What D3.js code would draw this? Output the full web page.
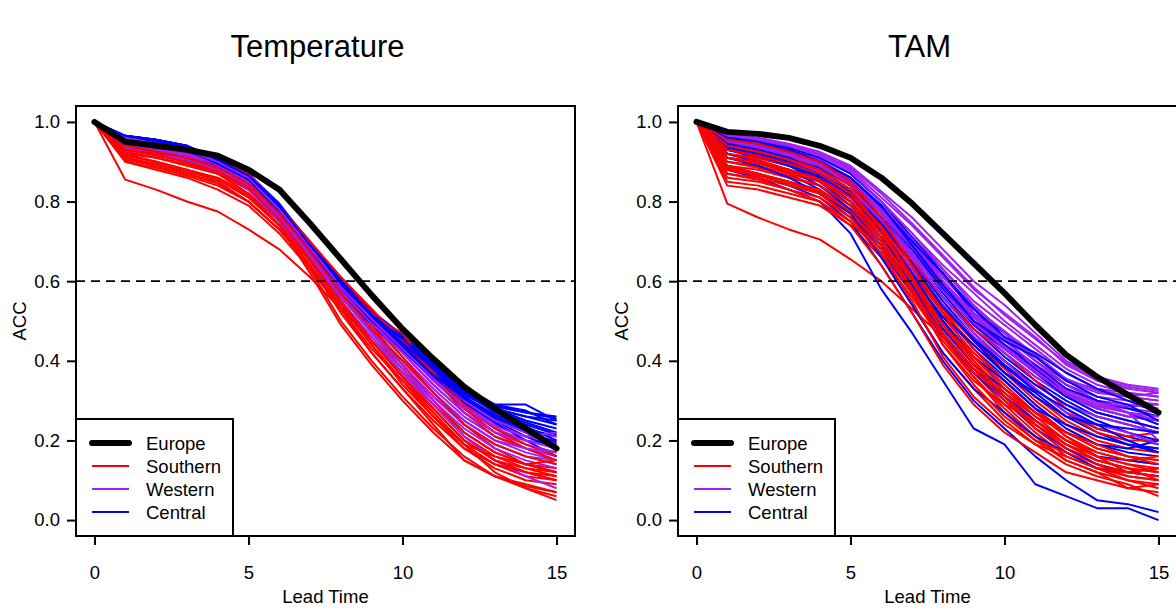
<!DOCTYPE html>
<meta charset="utf-8">
<style>

body {
  margin: 0;
  background: #fff;
}

text {
  font-family: "Liberation Sans", Arial, sans-serif;
  fill: #000;
}

</style>
<svg></svg>
<script src="https://d3js.org/d3.v7.min.js"></script>
<script>

var leadTime = [0, 1, 2, 3, 4, 5, 6, 7, 8, 9, 10, 11, 12, 13, 14, 15];

var xTicks = [0, 5, 10, 15],
    yTicks = [0, 0.2, 0.4, 0.6, 0.8, 1.0];

var legendLabels = ["Europe", "Southern", "Western", "Central"];

// ---- Temperature ----
var tempEurope = [1, .95, .94, .93, .915, .88, .83, .745, .655, .565, .48, .405, .335, .28, .23, .18];

var tempSouthern = [
  [1, .855, .83, .80, .775, .73, .68, .61, .53, .45, .37, .29, .22, .17, .14, .13],
  [1, .90, .88, .86, .83, .79, .72, .63, .53, .43, .35, .26, .18, .13, .10, .09],
  [1, .91, .89, .87, .85, .80, .73, .64, .53, .42, .33, .24, .15, .11, .085, .07],
  [1, .92, .90, .88, .86, .82, .75, .66, .55, .45, .36, .27, .19, .14, .11, .10],
  [1, .93, .92, .90, .88, .84, .76, .67, .57, .47, .38, .29, .21, .16, .13, .11],
  [1, .94, .93, .91, .89, .85, .77, .68, .59, .50, .41, .32, .24, .18, .14, .12],
  [1, .935, .92, .91, .88, .83, .75, .63, .50, .40, .31, .23, .16, .11, .08, .06],
  [1, .95, .94, .92, .90, .86, .78, .69, .60, .52, .44, .36, .28, .22, .18, .15],
  [1, .92, .91, .89, .87, .83, .76, .66, .57, .51, .47, .36, .27, .21, .18, .15],
  [1, .925, .91, .895, .87, .82, .74, .62, .49, .39, .30, .22, .15, .11, .09, .07],
  [1, .945, .93, .915, .895, .855, .78, .69, .59, .49, .39, .30, .22, .17, .14, .12],
  [1, .91, .895, .875, .855, .81, .74, .65, .55, .45, .36, .28, .20, .15, .12, .11],
  [1, .95, .94, .93, .91, .87, .79, .70, .61, .53, .45, .37, .29, .23, .19, .16],
  [1, .90, .885, .865, .84, .80, .73, .64, .54, .44, .35, .27, .19, .12, .08, .05],
  [1, .915, .90, .88, .855, .815, .74, .64, .52, .42, .33, .25, .18, .14, .12, .10],
  [1, .93, .915, .90, .875, .835, .755, .655, .55, .45, .36, .28, .20, .15, .13, .12],
  [1, .905, .89, .87, .845, .80, .73, .635, .54, .44, .34, .26, .19, .16, .14, .15],
  [1, .94, .925, .91, .885, .845, .77, .675, .57, .48, .40, .32, .24, .19, .16, .14]
];

var tempWestern = [
  [1, .96, .95, .93, .90, .86, .78, .69, .58, .50, .43, .35, .28, .23, .20, .19],
  [1, .95, .94, .92, .89, .85, .77, .68, .57, .49, .41, .33, .26, .21, .18, .16],
  [1, .94, .93, .91, .88, .84, .76, .67, .56, .48, .40, .32, .25, .20, .17, .15],
  [1, .955, .945, .93, .90, .86, .78, .68, .57, .48, .39, .30, .22, .17, .14, .12],
  [1, .93, .92, .90, .87, .83, .75, .66, .55, .46, .37, .29, .21, .15, .11, .08],
  [1, .96, .95, .935, .91, .87, .79, .70, .59, .51, .44, .36, .29, .24, .21, .20],
  [1, .945, .935, .92, .89, .85, .77, .67, .56, .47, .39, .31, .24, .19, .16, .14],
  [1, .95, .94, .925, .90, .86, .775, .685, .58, .50, .42, .34, .27, .22, .19, .17],
  [1, .94, .925, .91, .88, .83, .75, .65, .54, .45, .37, .28, .20, .15, .12, .10],
  [1, .955, .945, .93, .905, .865, .785, .695, .59, .515, .445, .37, .30, .25, .22, .21],
  [1, .935, .925, .905, .88, .84, .76, .66, .55, .46, .38, .30, .23, .18, .15, .13],
  [1, .95, .94, .92, .895, .855, .775, .68, .575, .495, .42, .34, .27, .22, .20, .18],
  [1, .95, .935, .92, .895, .85, .77, .67, .565, .475, .40, .32, .25, .20, .18, .17],
  [1, .945, .93, .915, .885, .845, .765, .665, .56, .47, .39, .31, .24, .19, .16, .15],
  [1, .96, .945, .93, .90, .86, .78, .685, .585, .505, .43, .355, .285, .235, .21, .22]
];

var tempCentral = [
  [1, .965, .955, .94, .905, .865, .79, .69, .605, .52, .46, .39, .33, .29, .27, .26],
  [1, .96, .95, .935, .90, .86, .785, .685, .595, .51, .45, .38, .32, .28, .25, .23],
  [1, .955, .945, .93, .895, .855, .775, .675, .585, .50, .44, .37, .31, .26, .23, .21],
  [1, .96, .95, .935, .905, .865, .79, .69, .60, .515, .455, .39, .33, .28, .26, .24],
  [1, .95, .94, .925, .89, .845, .765, .67, .58, .495, .43, .36, .30, .25, .21, .18],
  [1, .965, .955, .94, .91, .87, .795, .695, .61, .525, .465, .395, .335, .29, .29, .25],
  [1, .955, .945, .93, .895, .85, .77, .67, .575, .49, .425, .355, .295, .245, .20, .16],
  [1, .96, .95, .935, .90, .855, .78, .68, .59, .505, .445, .375, .315, .275, .245, .22],
  [1, .95, .94, .925, .885, .84, .76, .665, .575, .49, .43, .36, .305, .255, .22, .19],
  [1, .96, .95, .935, .905, .86, .785, .685, .60, .51, .45, .385, .325, .28, .26, .25],
  [1, .955, .945, .93, .895, .855, .78, .68, .59, .505, .44, .37, .31, .265, .235, .20],
  [1, .965, .955, .94, .905, .865, .79, .69, .60, .515, .45, .38, .32, .27, .24, .215],
  [1, .96, .95, .935, .90, .86, .785, .685, .595, .51, .445, .38, .325, .285, .27, .255],
  [1, .955, .945, .93, .895, .855, .775, .675, .585, .50, .435, .365, .305, .26, .225, .195],
  [1, .965, .955, .94, .905, .865, .79, .69, .60, .515, .455, .39, .33, .29, .275, .24]
];

// ---- TAM ----
var tamEurope = [1, .975, .97, .96, .94, .91, .86, .795, .72, .645, .57, .49, .415, .36, .315, .27];

var tamSouthern = [
  [1, .795, .76, .73, .705, .655, .60, .53, .46, .38, .31, .24, .18, .14, .11, .10],
  [1, .84, .83, .81, .79, .74, .66, .56, .45, .36, .28, .21, .15, .12, .10, .09],
  [1, .85, .84, .82, .80, .75, .67, .57, .46, .37, .29, .22, .16, .13, .11, .10],
  [1, .86, .85, .83, .81, .76, .68, .58, .48, .39, .31, .24, .18, .15, .13, .12],
  [1, .87, .86, .84, .82, .77, .69, .59, .49, .40, .32, .25, .19, .16, .14, .13],
  [1, .88, .87, .85, .83, .78, .70, .60, .50, .41, .34, .27, .21, .17, .15, .14],
  [1, .89, .88, .86, .84, .79, .71, .61, .51, .42, .35, .28, .22, .18, .16, .15],
  [1, .90, .89, .87, .85, .80, .72, .62, .52, .44, .37, .30, .24, .20, .18, .17],
  [1, .91, .90, .88, .86, .81, .73, .63, .53, .45, .38, .31, .25, .21, .19, .18],
  [1, .92, .91, .89, .87, .82, .74, .64, .54, .46, .40, .33, .27, .22, .20, .20],
  [1, .93, .92, .90, .88, .83, .75, .65, .56, .48, .42, .35, .28, .23, .21, .22],
  [1, .94, .93, .91, .89, .84, .75, .64, .53, .43, .35, .28, .21, .16, .12, .11],
  [1, .95, .94, .92, .89, .84, .74, .62, .50, .40, .31, .23, .17, .13, .10, .08],
  [1, .90, .885, .865, .84, .79, .70, .58, .46, .36, .27, .20, .15, .12, .08, .07],
  [1, .88, .865, .845, .82, .76, .66, .54, .42, .33, .25, .19, .14, .11, .09, .06],
  [1, .91, .895, .875, .85, .80, .71, .60, .49, .39, .31, .24, .19, .15, .13, .12],
  [1, .89, .87, .85, .82, .76, .67, .55, .41, .31, .24, .19, .16, .13, .12, .13],
  [1, .87, .855, .83, .80, .74, .64, .52, .39, .29, .22, .17, .12, .10, .08, .09],
  [1, .92, .905, .88, .855, .80, .71, .58, .44, .35, .29, .25, .20, .17, .15, .16],
  [1, .93, .915, .895, .87, .82, .73, .61, .47, .37, .32, .26, .22, .18, .16, .15],
  [1, .94, .925, .905, .88, .83, .73, .60, .47, .38, .30, .24, .19, .15, .13, .10],
  [1, .91, .90, .88, .855, .81, .72, .61, .49, .41, .33, .27, .22, .19, .16, .14],
  [1, .955, .945, .925, .90, .85, .76, .64, .52, .41, .33, .26, .20, .16, .14, .12],
  [1, .885, .87, .85, .825, .775, .69, .57, .44, .34, .26, .20, .17, .14, .12, .11]
];

var tamWestern = [
  [1, .97, .96, .945, .925, .89, .825, .76, .68, .60, .54, .47, .40, .36, .34, .33],
  [1, .965, .955, .94, .92, .88, .81, .74, .66, .58, .52, .46, .39, .35, .33, .32],
  [1, .96, .95, .935, .91, .87, .80, .72, .64, .57, .50, .44, .38, .34, .32, .31],
  [1, .955, .945, .93, .905, .86, .79, .71, .63, .55, .49, .43, .37, .33, .31, .30],
  [1, .95, .94, .92, .89, .85, .78, .70, .61, .53, .47, .41, .35, .32, .31, .32],
  [1, .95, .935, .915, .885, .84, .77, .68, .59, .51, .45, .39, .34, .31, .30, .29],
  [1, .945, .93, .91, .88, .83, .76, .67, .58, .50, .44, .38, .33, .30, .29, .28],
  [1, .94, .925, .90, .87, .82, .75, .65, .56, .48, .42, .36, .31, .28, .26, .25],
  [1, .96, .95, .93, .90, .86, .79, .70, .60, .51, .44, .37, .31, .27, .25, .23],
  [1, .935, .92, .895, .86, .81, .73, .63, .54, .46, .40, .34, .29, .26, .24, .22],
  [1, .965, .955, .94, .915, .875, .80, .72, .63, .54, .47, .40, .34, .30, .27, .20],
  [1, .955, .94, .92, .89, .845, .77, .68, .58, .49, .42, .36, .31, .29, .28, .27],
  [1, .95, .94, .92, .895, .85, .78, .69, .60, .52, .46, .40, .35, .33, .32, .31],
  [1, .94, .93, .91, .875, .83, .75, .66, .56, .47, .40, .33, .27, .24, .22, .19],
  [1, .965, .955, .94, .92, .885, .82, .745, .665, .585, .515, .455, .395, .355, .335, .325],
  [1, .96, .945, .925, .90, .86, .79, .705, .615, .535, .475, .415, .355, .325, .31, .30],
  [1, .955, .94, .92, .895, .855, .78, .69, .59, .50, .43, .37, .32, .29, .27, .25],
  [1, .945, .935, .915, .89, .845, .775, .685, .595, .515, .455, .385, .325, .295, .285, .29],
  [1, .94, .925, .905, .875, .83, .755, .665, .575, .495, .435, .375, .315, .285, .27, .26]
];

var tamCentral = [
  [1, .88, .86, .83, .80, .72, .58, .47, .35, .23, .19, .09, .06, .03, .03, .00],
  [1, .89, .87, .84, .81, .75, .64, .52, .40, .30, .23, .16, .10, .05, .04, .02],
  [1, .92, .90, .87, .83, .77, .68, .57, .46, .37, .30, .23, .18, .14, .12, .13],
  [1, .93, .91, .89, .86, .81, .73, .63, .52, .43, .36, .29, .23, .19, .17, .16],
  [1, .94, .93, .91, .88, .83, .75, .65, .55, .46, .39, .33, .27, .23, .21, .19],
  [1, .95, .94, .92, .89, .85, .77, .67, .57, .48, .41, .35, .30, .26, .24, .22],
  [1, .95, .94, .925, .90, .86, .79, .70, .60, .51, .44, .38, .32, .28, .26, .25],
  [1, .96, .95, .935, .91, .87, .80, .71, .62, .52, .47, .40, .34, .30, .27, .24],
  [1, .94, .92, .90, .87, .82, .74, .64, .54, .45, .37, .31, .26, .22, .19, .17],
  [1, .93, .915, .89, .85, .79, .70, .59, .48, .39, .33, .27, .22, .19, .18, .20],
  [1, .95, .935, .915, .885, .84, .76, .66, .56, .47, .40, .34, .29, .25, .22, .20],
  [1, .96, .95, .93, .90, .86, .78, .68, .58, .49, .43, .37, .31, .27, .25, .23],
  [1, .92, .90, .88, .84, .78, .69, .58, .47, .38, .31, .25, .20, .16, .15, .14],
  [1, .955, .945, .93, .90, .855, .78, .69, .59, .50, .44, .39, .33, .30, .28, .26],
  [1, .91, .89, .86, .82, .77, .66, .54, .42, .33, .27, .21, .17, .13, .12, .11],
  [1, .955, .945, .925, .895, .855, .785, .70, .62, .53, .46, .42, .37, .33, .30, .27],
  [1, .93, .915, .895, .86, .80, .71, .61, .51, .44, .37, .32, .26, .24, .20, .17],
  [1, .945, .93, .91, .875, .825, .745, .645, .535, .455, .385, .325, .28, .24, .23, .22],
  [1, .935, .92, .90, .865, .815, .725, .62, .50, .41, .35, .28, .24, .21, .19, .18],
  [1, .96, .95, .93, .90, .86, .79, .69, .59, .50, .45, .41, .35, .31, .29, .25]
];

var colors = { Europe: "#000000", Southern: "#ff0000", Western: "#a020f0", Central: "#0000ff" };

var width = 1176,
    height = 611;

var boxW = 499,
    boxTop = 106,
    boxBottom = 536;

var svg = d3.select("svg")
    .attr("width", width)
    .attr("height", height);

var panels = [
  { title: "Temperature", left: 76, europe: tempEurope, southern: tempSouthern, western: tempWestern, central: tempCentral },
  { title: "TAM", left: 678, europe: tamEurope, southern: tamSouthern, western: tamWestern, central: tamCentral }
];

panels.forEach(drawPanel);

function drawPanel(p) {
  var g = svg.append("g")
      .attr("transform", "translate(" + p.left + ",0)");

  var x = d3.scaleLinear().domain([-0.6, 15.6]).range([0, boxW]);
  var y = d3.scaleLinear().domain([-0.04, 1.04]).range([boxBottom, boxTop]);

  var line = d3.line()
      .x(function(d, i) { return x(leadTime[i]); })
      .y(function(d) { return y(d); });

  // region lines, interleaved so no group sits fully on top
  var groups = [
    { data: p.southern, color: colors.Southern },
    { data: p.western, color: colors.Western },
    { data: p.central, color: colors.Central }
  ];
  var n = d3.max(groups, function(gr) { return gr.data.length; });
  var lines = g.append("g");
  for (var i = 0; i < n; i++) {
    groups.forEach(function(gr) {
      if (!gr.data[i]) return;
      lines.append("path")
          .attr("d", line(gr.data[i]))
          .attr("fill", "none")
          .attr("stroke", gr.color)
          .attr("stroke-width", 2)
          .attr("stroke-linejoin", "round");
    });
  }

  g.append("line")
      .attr("x1", 0).attr("x2", boxW)
      .attr("y1", y(0.6)).attr("y2", y(0.6))
      .attr("stroke", "#000")
      .attr("stroke-width", 1.8)
      .attr("stroke-dasharray", "9,6");

  g.append("path")
      .attr("d", line(p.europe))
      .attr("fill", "none")
      .attr("stroke", colors.Europe)
      .attr("stroke-width", 6)
      .attr("stroke-linejoin", "round")
      .attr("stroke-linecap", "round");

  // axes
  var xAxis = g.append("g")
      .attr("transform", "translate(0," + boxBottom + ")")
      .call(d3.axisBottom(x).tickValues(xTicks).tickSize(9).tickSizeOuter(0).tickPadding(21));
  var yAxis = g.append("g")
      .call(d3.axisLeft(y).tickValues(yTicks).tickFormat(d3.format(".1f")).tickSize(9).tickSizeOuter(0).tickPadding(7));

  [xAxis, yAxis].forEach(function(a) {
    a.select(".domain").remove();
    a.selectAll(".tick line").attr("stroke", "#000").attr("stroke-width", 2);
    a.selectAll(".tick text")
        .attr("fill", "#000")
        .style("font-size", "18.5px")
        .style("font-family", "'Liberation Sans', Arial, sans-serif");
  });

  // box
  g.append("rect")
      .attr("x", 0).attr("y", boxTop)
      .attr("width", boxW).attr("height", boxBottom - boxTop)
      .attr("fill", "none")
      .attr("stroke", "#000")
      .attr("stroke-width", 2);

  // labels
  g.append("text")
      .attr("x", boxW / 2 - 8)
      .attr("y", 57)
      .attr("text-anchor", "middle")
      .style("font-size", "31px")
      .text(p.title);

  g.append("text")
      .attr("x", boxW / 2)
      .attr("y", 603)
      .attr("text-anchor", "middle")
      .style("font-size", "18.5px")
      .text("Lead Time");

  g.append("text")
      .attr("transform", "translate(-50," + ((boxTop + boxBottom) / 2) + ") rotate(-90)")
      .attr("text-anchor", "middle")
      .style("font-size", "18.5px")
      .text("ACC");

  // legend
  var lg = g.append("g");
  lg.append("rect")
      .attr("x", 0).attr("y", 419)
      .attr("width", 157).attr("height", boxBottom - 419)
      .attr("fill", "#fff")
      .attr("stroke", "#000")
      .attr("stroke-width", 2);

  legendLabels.forEach(function(lab, k) {
    var yy = 443 + k * 23;
    lg.append("line")
        .attr("x1", 16).attr("x2", 53)
        .attr("y1", yy).attr("y2", yy)
        .attr("stroke", colors[lab])
        .attr("stroke-width", k === 0 ? 6 : 1.8)
        .attr("stroke-linecap", k === 0 ? "round" : "butt");
    lg.append("text")
        .attr("x", 70)
        .attr("y", yy)
        .attr("dy", "0.36em")
        .style("font-size", "18.5px")
        .text(lab);
  });
}

</script>
